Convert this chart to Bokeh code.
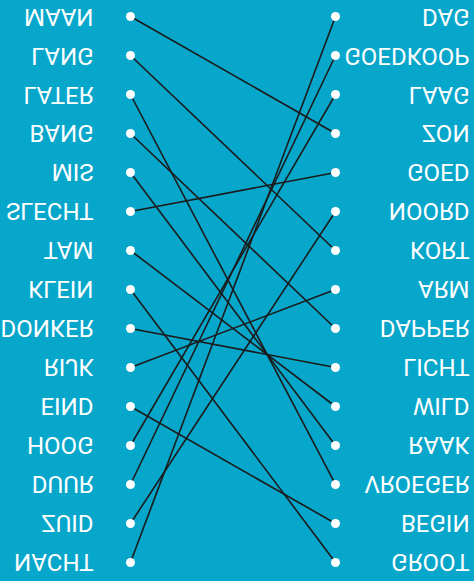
from bokeh.plotting import figure
from bokeh.models import ColumnDataSource, Range1d, GlobalInlineStyleSheet
from bokeh.embed import file_html
from bokeh.resources import INLINE
from bokeh.core.properties import value

# Words in the left column (top to bottom)
left_words = ["MAAN", "LANG", "LATER", "BANG", "MIS", "SLECHT", "TAM", "KLEIN",
              "DONKER", "RIJK", "EIND", "HOOG", "DUUR", "ZUID", "NACHT"]
# Words in the right column (top to bottom)
right_words = ["DAG", "GOEDKOOP", "LAAG", "ZON", "GOED", "NOORD", "KORT", "ARM",
               "DAPPER", "LICHT", "WILD", "RAAK", "VROEGER", "BEGIN", "GROOT"]
# The opposite each left word is joined to
matches = ["ZON", "KORT", "VROEGER", "DAPPER", "RAAK", "GOED", "WILD", "GROOT",
           "LICHT", "ARM", "BEGIN", "LAAG", "GOEDKOOP", "NOORD", "DAG"]

BG = "#07a6cb"
FONT = value("Roboto")

left_rows = list(range(len(left_words)))
right_rows = list(range(len(right_words)))
match_rows = [right_words.index(m) for m in matches]

left_src = ColumnDataSource(dict(x=[0] * len(left_words), y=left_rows, t=left_words))
right_src = ColumnDataSource(dict(x=[1] * len(right_words), y=right_rows, t=right_words))
seg_src = ColumnDataSource(dict(x0=[0] * len(left_words), y0=left_rows,
                                x1=[1] * len(left_words), y1=match_rows))

W, H = 474, 581
p = figure(width=W, height=H, output_backend="svg", toolbar_location=None,
           min_border=0, x_range=Range1d(-0.634, 1.678),
           y_range=Range1d(-0.436, 14.462))
p.background_fill_color = BG
p.border_fill_color = BG
p.outline_line_color = None
p.axis.visible = False
p.grid.visible = False

p.segment(x0="x0", y0="y0", x1="x1", y1="y1", source=seg_src,
          line_color="#1b1b1b", line_width=1.6)
p.scatter(x="x", y="y", source=left_src, size=9, fill_color="white", line_color=None)
p.scatter(x="x", y="y", source=right_src, size=9, fill_color="white", line_color=None)

p.text(x="x", y="y", text="t", source=left_src, text_font=FONT,
       text_font_size="24px", text_color="white", text_align="right",
       text_baseline="middle", x_offset=-37)
p.text(x="x", y="y", text="t", source=right_src, text_font=FONT,
       text_font_size="24px", text_color="white", text_align="right",
       text_baseline="middle", x_offset=134)

# the worksheet is shown mirrored top-to-bottom
p.styles = {"transform": "scaleY(-1)"}
p.stylesheets = [GlobalInlineStyleSheet(css="body { background: %s; }" % BG)]

open("out.html", "w").write(file_html(p, INLINE))
